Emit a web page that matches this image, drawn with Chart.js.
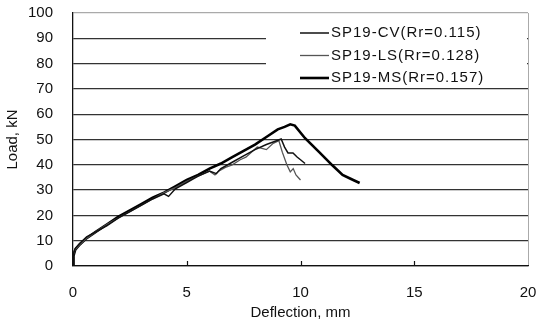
<!DOCTYPE html>
<html>
<head>
<meta charset="utf-8">
<script src="https://cdn.jsdelivr.net/npm/chart.js@4"></script>
<style>
  html, body { margin:0; padding:0; background:#fff; }
  #wrap { width:536px; height:321px; }
</style>
</head>
<body>
<div id="wrap"><canvas id="loadChart" width="536" height="321"></canvas></div>
<script>
const seriesNames = ["SP19-CV(Rr=0.115)", "SP19-LS(Rr=0.128)", "SP19-MS(Rr=0.157)"];

const cvX = [0, 0.03, 0.1, 0.3, 0.6, 1, 1.5, 2, 2.5, 3, 3.5, 4, 4.2, 4.5, 5, 5.5, 6, 6.3, 6.5, 7, 7.5, 8, 8.5, 8.8, 9.15, 9.3, 9.45, 9.67, 9.85, 10.0, 10.2];
const cvY = [0, 5, 7, 9, 11.5, 13.5, 16, 19, 21.5, 24, 26.5, 28.5, 27.5, 30.5, 33, 35.5, 37.5, 36.5, 38.5, 41, 43.5, 46, 48, 49, 50.2, 47, 44.7, 44.7, 43.1, 42, 40.5];

const lsX = [0, 0.02, 0.1, 0.3, 0.6, 1, 1.5, 2, 2.5, 3, 3.5, 4, 4.5, 5, 5.5, 6, 6.24, 6.4, 6.7, 7, 7.35, 7.6, 8.1, 8.5, 8.8, 9.05, 9.2, 9.4, 9.55, 9.68, 9.8, 10.0];
const lsY = [0, 4.5, 6.5, 8.5, 11, 13.5, 16.5, 19, 21.5, 24, 26.5, 29, 31, 33.5, 35.5, 37.5, 36, 37.5, 39, 40, 42, 43, 47, 46, 48.5, 49.5, 45, 40, 37.2, 38.5, 36, 34];

const msX = [0, 0.02, 0.1, 0.3, 0.6, 1, 1.5, 2, 2.5, 3, 3.5, 4, 4.5, 5, 5.5, 6, 6.5, 7, 7.5, 8, 8.5, 9, 9.3, 9.55, 9.75, 10.2, 10.8, 11.4, 11.85, 12.2, 12.6];
const msY = [0, 4, 6.5, 8.5, 11, 13.5, 16.5, 19.5, 22, 24.5, 27, 29, 31.5, 34, 36, 38.5, 40.5, 43, 45.5, 48, 51, 54, 55, 56, 55.5, 50.5, 45.2, 39.8, 36, 34.5, 32.8];

const xTicks = [0, 5, 10, 15, 20];
const yTicks = [0, 10, 20, 30, 40, 50, 60, 70, 80, 90, 100];

const toPts = (xs, ys) => xs.map((x, i) => ({ x: x, y: ys[i] }));
const FONT = "'Liberation Sans', Arial, sans-serif";

// white legend box over the grid, inside the plot at top right
const legendInside = {
  id: "legendInside",
  beforeDatasetsDraw(chart) {
    const c = chart.ctx;
    c.save();
    c.fillStyle = "#fff";
    c.fillRect(266, 16, chart.chartArea.right - 267, 70);
    // small inward tick marks on the x axis
    const xs = chart.scales.x, b = chart.chartArea.bottom;
    c.strokeStyle = "#111";
    c.lineWidth = 1.2;
    xTicks.slice(1, -1).forEach(v => {
      const px = Math.round(xs.getPixelForValue(v)) + 0.5;
      c.beginPath(); c.moveTo(px, b); c.lineTo(px, b - 5); c.stroke();
    });
    c.restore();
  },
  afterDraw(chart) {
    const c = chart.ctx;
    c.save();
    c.font = "15px " + FONT;
    c.letterSpacing = "1px";
    c.textBaseline = "middle";
    chart.data.datasets.forEach((ds, i) => {
      const y = 33 + i * 22.5;
      c.strokeStyle = ds.borderColor;
      c.lineWidth = ds.borderWidth;
      c.beginPath();
      c.moveTo(300, y);
      c.lineTo(329, y);
      c.stroke();
      c.fillStyle = "#111";
      c.fillText(ds.label, 331, y);
    });
    c.restore();
  }
};

new Chart(document.getElementById("loadChart").getContext("2d"), {
  type: "line",
  data: {
    datasets: [
      { label: seriesNames[0], data: toPts(cvX, cvY), borderColor: "#111", borderWidth: 1.5 },
      { label: seriesNames[1], data: toPts(lsX, lsY), borderColor: "#555", borderWidth: 1.3 },
      { label: seriesNames[2], data: toPts(msX, msY), borderColor: "#000", borderWidth: 2.6 }
    ]
  },
  options: {
    responsive: false,
    animation: false,
    elements: { point: { radius: 0 }, line: { tension: 0, fill: false } },
    layout: { padding: { top: 13, right: 8, left: 0, bottom: 0 } },
    plugins: { legend: { display: false }, tooltip: { enabled: false } },
    scales: {
      x: {
        type: "linear", min: 0, max: 20,
        afterBuildTicks: s => { s.ticks = xTicks.map(v => ({ value: v })); },
        afterFit: s => { s.height = 55; s.paddingRight = 0; s.paddingLeft = 0; },
        border: { color: "#111", width: 1.3 },
        grid: { drawTicks: false, color: c => c.tick && c.tick.value === 20 ? "#aaa" : "rgba(0,0,0,0)" },
        ticks: { padding: 18, color: "#111", font: { family: FONT, size: 15 } },
        title: { display: true, text: "Deflection, mm", color: "#111", padding: { top: 4, bottom: -1 }, font: { family: FONT, size: 15 } }
      },
      y: {
        min: 0, max: 100,
        afterBuildTicks: s => { s.ticks = yTicks.map(v => ({ value: v })); },
        afterFit: s => { s.width = 73; s.paddingTop = 0; s.paddingBottom = 0; },
        border: { color: "#111", width: 1.3 },
        grid: { drawTicks: false, lineWidth: 1.3, color: c => c.tick && c.tick.value === 100 ? "#aaa" : "#333" },
        ticks: { padding: 20, color: "#111", font: { family: FONT, size: 15 } },
        title: { display: true, text: "Load, kN", color: "#111", padding: { bottom: 2 }, font: { family: FONT, size: 15 } }
      }
    }
  },
  plugins: [legendInside]
});
</script>
</body>
</html>
